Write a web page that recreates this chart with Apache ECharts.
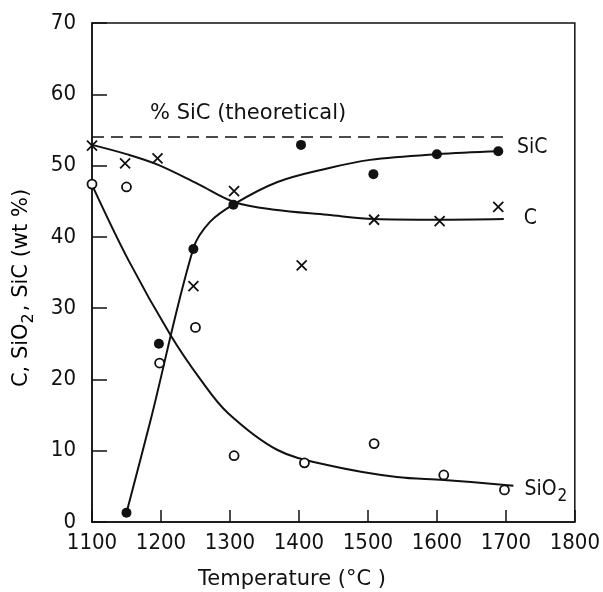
<!DOCTYPE html>
<html>
<head>
<meta charset="utf-8">
<script src="https://cdn.jsdelivr.net/npm/echarts@6/dist/echarts.min.js"></script>
<style>
  html, body { margin: 0; padding: 0; background: #fff; }
  #chart { width: 603px; height: 592px; }
</style>
</head>
<body>
<div id="chart"></div>
<script>
/* ---- measured points (temperature °C, wt %) ---- */
const sicPts  = [[1150, 1.3], [1197, 25.0], [1247, 38.3], [1305, 44.5], [1403, 52.9], [1508, 48.8], [1600, 51.6], [1689, 52.0]];
const cPts    = [[1100, 52.8], [1148, 50.3], [1195, 51.0], [1247, 33.1], [1306, 46.4], [1404, 36.0], [1509, 42.4], [1604, 42.2], [1689, 44.2]];
const sio2Pts = [[1100, 47.4], [1150, 47.0], [1198, 22.3], [1250, 27.3], [1306, 9.3], [1408, 8.3], [1509, 11.0], [1610, 6.6], [1698, 4.5]];

/* ---- hand-drawn fitted curves ---- */
const sicCurve  = [[1150, 1.3], [1185, 14.3], [1247, 38.4], [1271, 42.1], [1306, 44.6], [1369, 47.7], [1441, 49.6], [1503, 50.8], [1600, 51.6], [1690, 52.0]];
const cCurve    = [[1100, 52.9], [1150, 51.6], [1196, 50.1], [1254, 47.4], [1306, 44.9], [1365, 43.8], [1441, 43.1], [1509, 42.5], [1600, 42.4], [1697, 42.5]];
const sio2Curve = [[1100, 47.3], [1153, 36.7], [1214, 26.2], [1258, 19.9], [1297, 15.3], [1369, 10.1], [1441, 8.0], [1542, 6.3], [1610, 5.9], [1711, 5.1]];
const theoretical = [[1100, 54.0], [1697, 54.0]];

const xTicks = { min: 1100, max: 1800, step: 100 };
const yTicks = { min: 0, max: 70, step: 10 };

const FONT = "'Liberation Sans Narrow', 'DejaVu Sans Condensed', sans-serif";   // tick numbers
const WIDE = "'DejaVu Sans', sans-serif";                                        // titles, notes
const INK = "#111";
const CROSS = "path://M0,0L10,10M10,0L0,10";

const txt = (size, fam, extra) => Object.assign({ fontFamily: fam, fontSize: size, color: INK }, extra || {});
const gtxt = (size, extra) => Object.assign({ font: size + "px " + WIDE, fill: INK }, extra || {});

const curve = (data, label, off) => ({
  type: "line", data, smooth: 0.35, showSymbol: false, silent: true,
  lineStyle: { color: INK, width: 2 },
  endLabel: {
    show: true, formatter: label, offset: off,
    rich: { n: txt(21, FONT), sub: txt(17, FONT, { padding: [14, 0, 0, 1] }) },
  },
  z: 2,
});

const chart = echarts.init(document.getElementById("chart"), null, { renderer: "canvas" });
chart.setOption({
  animation: false,
  backgroundColor: "#fff",
  textStyle: { fontFamily: FONT, color: INK },
  grid: { left: 92, right: 25, top: 23, bottom: 70, show: true, borderColor: INK, borderWidth: 1.5 },
  xAxis: {
    type: "value", min: xTicks.min, max: xTicks.max, interval: xTicks.step,
    axisLine: { lineStyle: { color: INK, width: 1.5 } },
    axisTick: { inside: true, length: 12, lineStyle: { color: INK, width: 1.5 } },
    axisLabel: { color: INK, fontFamily: FONT, fontSize: 22, margin: 10, formatter: (v) => String(v) },
    splitLine: { show: false },
  },
  yAxis: {
    type: "value", min: yTicks.min, max: yTicks.max, interval: yTicks.step,
    axisLine: { lineStyle: { color: INK, width: 1.5 } },
    axisTick: { inside: true, length: 15, lineStyle: { color: INK, width: 1.5 } },
    axisLabel: { color: INK, fontFamily: FONT, fontSize: 22, margin: 16, formatter: (v) => String(v) },
    splitLine: { show: false },
  },
  graphic: [
    {
      type: "text", left: 150, top: 103,
      style: gtxt(21, { text: "% SiC (theoretical)" }),
    },
    {
      type: "text", x: 292, y: 580,
      style: gtxt(21, { text: "Temperature (°C )", align: "center", verticalAlign: "middle" }),
    },
    {
      type: "text", x: 22, y: 288, rotation: Math.PI / 2,
      style: {
        text: "{n|C, SiO}{sub|2}{n|, SiC (wt %)}", align: "center", verticalAlign: "middle",
        rich: {
          n: txt(21, WIDE),
          sub: txt(16, WIDE, { padding: [13, 2, 0, 0] }),
        },
      },
    },
  ],
  series: [
    {
      type: "line", data: theoretical, showSymbol: false, silent: true,
      lineStyle: { color: INK, width: 1.5, type: [12, 7] }, z: 1,
    },
    curve(sicCurve, "{n|SiC}", [10, -4]),
    curve(cCurve, "{n|C}", [12, 0]),
    curve(sio2Curve, "{n|SiO}{sub|2}", [3, 4]),
    {
      type: "scatter", data: sicPts, symbol: "circle", symbolSize: 10,
      itemStyle: { color: INK, opacity: 1 }, z: 3,
    },
    {
      type: "scatter", data: sio2Pts, symbol: "circle", symbolSize: 9,
      itemStyle: { color: "#fff", borderColor: INK, borderWidth: 1.8, opacity: 1 }, z: 3,
    },
    {
      type: "scatter", data: cPts, symbol: CROSS, symbolSize: [10, 10],
      itemStyle: { color: "none", borderColor: INK, borderWidth: 1.8, opacity: 1 }, z: 3,
    },
  ],
});
</script>
</body>
</html>
